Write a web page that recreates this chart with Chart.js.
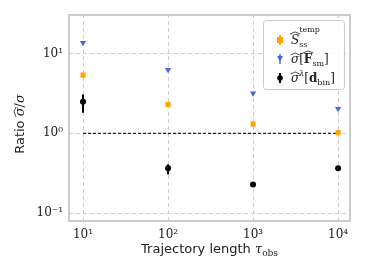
<!DOCTYPE html>
<html>
<head>
<meta charset="utf-8">
<script src="https://cdn.jsdelivr.net/npm/chart.js@4"></script>
<style>
html,body{margin:0;padding:0;background:#fff;}
#wrap{width:366px;height:275px;}
</style>
</head>
<body>
<div id="wrap"><canvas id="c" width="366" height="275"></canvas></div>
<script>
// Data
const tauObs = [10, 100, 1000, 10000];
const sTemp = [5.36, 2.30, 1.31, 1.02];
const sTempLow = [5.0, 2.22, 1.27, 0.99];
const sTempHigh = [5.75, 2.38, 1.35, 1.05];
const sigmaF = [13.6, 6.24, 3.16, 2.03];
const sigmaFLow = [13.3, 6.1, 3.1, 2.0];
const sigmaFHigh = [13.9, 6.4, 3.22, 2.07];
const sigmaD = [2.48, 0.365, 0.230, 0.365];
const sigmaDLow = [1.81, 0.307, 0.222, 0.355];
const sigmaDHigh = [3.07, 0.41, 0.238, 0.375];
const xTicks = [10, 100, 1000, 10000];
const yTicks = [0.1, 1, 10];
const xTickLabels = ['10¹', '10²', '10³', '10⁴'];
const yTickLabels = ['10⁻¹', '10⁰', '10¹'];
const refLine = [{x: 10, y: 1}, {x: 10000, y: 1}];

const ORANGE = '#FFA500', BLUE = '#4169E1', BLACK = '#000000';

const toPts = (ys) => tauObs.map((x, i) => ({x: x, y: ys[i]}));

const dashedGrid = {
  id: 'dashedGrid',
  beforeDatasetsDraw(chart) {
    const ctx = chart.ctx, a = chart.chartArea, xs = chart.scales.x, ys = chart.scales.y;
    ctx.save();
    ctx.strokeStyle = '#cfcfcf'; ctx.lineWidth = 1; ctx.setLineDash([4, 3]);
    xTicks.forEach(v => {
      const px = Math.round(xs.getPixelForValue(v)) + 0.5;
      ctx.beginPath(); ctx.moveTo(px, a.bottom); ctx.lineTo(px, a.top); ctx.stroke();
    });
    yTicks.forEach(v => {
      const py = Math.round(ys.getPixelForValue(v)) + 0.5;
      ctx.beginPath(); ctx.moveTo(a.left, py); ctx.lineTo(a.right, py); ctx.stroke();
    });
    ctx.restore();
  }
};

const errorBars = {
  id: 'errorBars',
  afterDatasetsDraw(chart) {
    const ctx = chart.ctx, xs = chart.scales.x, ys = chart.scales.y;
    const sets = [
      [sTempLow, sTempHigh, ORANGE, 2],
      [sigmaFLow, sigmaFHigh, BLUE, 1.5],
      [sigmaDLow, sigmaDHigh, BLACK, 2]
    ];
    ctx.save();
    sets.forEach(([lo, hi, col, w]) => {
      ctx.strokeStyle = col; ctx.lineWidth = w;
      tauObs.forEach((x, i) => {
        const px = xs.getPixelForValue(x);
        ctx.beginPath();
        ctx.moveTo(px, ys.getPixelForValue(lo[i]));
        ctx.lineTo(px, ys.getPixelForValue(hi[i]));
        ctx.stroke();
      });
    });
    ctx.restore();
  }
};

const frameAndText = {
  id: 'frameAndText',
  afterDraw(chart) {
    const ctx = chart.ctx, a = chart.chartArea;
    ctx.save();
    // frame
    ctx.strokeStyle = '#cccccc'; ctx.lineWidth = 2;
    ctx.strokeRect(a.left, a.top, a.right - a.left, a.bottom - a.top);

    // x-axis title
    ctx.fillStyle = '#222';
    ctx.textBaseline = 'alphabetic';
    const sans = '"DejaVu Sans", sans-serif';
    const serifI = 'italic 13px "DejaVu Serif", serif';
    const t1 = 'Trajectory length ';
    ctx.font = '13px ' + sans; const w1 = ctx.measureText(t1).width;
    ctx.font = serifI; const w2 = ctx.measureText('τ').width;
    ctx.font = '9px "DejaVu Serif", serif'; const w3 = ctx.measureText('obs').width;
    let x0 = (a.left + a.right) / 2 - (w1 + w2 + w3) / 2;
    const yb = 253;
    ctx.textAlign = 'left';
    ctx.font = '13px ' + sans; ctx.fillText(t1, x0, yb);
    ctx.font = serifI; ctx.fillText('τ', x0 + w1, yb);
    ctx.font = '9px "DejaVu Serif", serif'; ctx.fillText('obs', x0 + w1 + w2, yb + 3);

    // y-axis title (rotated)
    ctx.save();
    ctx.translate(24, (a.top + a.bottom) / 2 + 6);
    ctx.rotate(-Math.PI / 2);
    ctx.font = '13px ' + sans;
    const r1 = 'Ratio ';
    const rw1 = ctx.measureText(r1).width;
    ctx.font = serifI;
    const sw = ctx.measureText('σ').width;
    const slw = ctx.measureText('/').width;
    const tot = rw1 + sw + slw + sw;
    let xx = -tot / 2;
    ctx.font = '13px ' + sans; ctx.fillText(r1, xx, 0); xx += rw1;
    ctx.font = serifI; ctx.fillText('σ', xx, 0);
    drawHat(ctx, xx - 0.5, -10, sw + 1, '#222');
    xx += sw;
    ctx.font = '13px "DejaVu Serif", serif'; ctx.fillText('/', xx, 0); xx += slw;
    ctx.font = serifI; ctx.fillText('σ', xx, 0);
    ctx.restore();

    // legend
    const lx = 263, ly = 20, lw = 81, lh = 69;
    ctx.fillStyle = 'rgba(255,255,255,0.85)';
    ctx.strokeStyle = '#cccccc'; ctx.lineWidth = 1;
    roundRect(ctx, lx + 0.5, ly + 0.5, lw, lh, 3);
    ctx.fill(); ctx.stroke();
    const mx = 280;
    const rows = [40, 59, 78];
    ctx.lineWidth = 2; ctx.strokeStyle = ORANGE; ctx.fillStyle = ORANGE;
    ctx.beginPath(); ctx.moveTo(mx, rows[0] - 5); ctx.lineTo(mx, rows[0] + 5); ctx.stroke();
    ctx.fillRect(mx - 3, rows[0] - 3, 6, 6);
    ctx.strokeStyle = BLUE; ctx.fillStyle = BLUE; ctx.lineWidth = 1.5;
    ctx.beginPath(); ctx.moveTo(mx, rows[1] - 5); ctx.lineTo(mx, rows[1] + 5); ctx.stroke();
    ctx.beginPath(); ctx.moveTo(mx - 3, rows[1] - 3); ctx.lineTo(mx + 3, rows[1] - 3); ctx.lineTo(mx, rows[1] + 2.5); ctx.closePath(); ctx.fill();
    ctx.strokeStyle = BLACK; ctx.fillStyle = BLACK; ctx.lineWidth = 2;
    ctx.beginPath(); ctx.moveTo(mx, rows[2] - 5); ctx.lineTo(mx, rows[2] + 5); ctx.stroke();
    ctx.beginPath(); ctx.arc(mx, rows[2], 2.8, 0, Math.PI * 2); ctx.fill();

    // legend labels
    const tx = 291;
    ctx.fillStyle = '#222';
    const it = 'italic 12px "DejaVu Serif", serif';
    const rm = '12px "DejaVu Serif", serif';
    const sm = '8px "DejaVu Serif", serif';
    const bd = 'bold 12px "DejaVu Serif", serif';
    let y = rows[0] + 4, x = tx;
    ctx.font = it; ctx.fillText('S', x, y);
    let w = ctx.measureText('S').width;
    drawHat(ctx, x - 1, y - 12, w + 2, '#222');
    x += w;
    ctx.font = sm; ctx.fillText('ss', x, y + 3);
    ctx.fillText('temp', x, y - 12);
    y = rows[1] + 4; x = tx;
    ctx.font = it; ctx.fillText('σ', x, y); w = ctx.measureText('σ').width;
    drawHat(ctx, x - 0.5, y - 10, w + 1, '#222'); x += w;
    ctx.font = rm; ctx.fillText('[', x, y); x += ctx.measureText('[').width;
    ctx.font = bd; ctx.fillText('F', x, y); w = ctx.measureText('F').width;
    drawHat(ctx, x - 1, y - 12, w + 2, '#222'); x += w;
    ctx.font = sm; ctx.fillText('sm', x, y + 3); x += ctx.measureText('sm').width;
    ctx.font = rm; ctx.fillText(']', x, y);
    y = rows[2] + 4; x = tx;
    ctx.font = it; ctx.fillText('σ', x, y); w = ctx.measureText('σ').width;
    drawHat(ctx, x - 0.5, y - 10, w + 1, '#222'); x += w;
    ctx.font = 'italic 8px "DejaVu Serif", serif'; ctx.fillText('λ', x, y - 6); x += ctx.measureText('λ').width;
    ctx.font = rm; ctx.fillText('[', x, y); x += ctx.measureText('[').width;
    ctx.font = bd; ctx.fillText('d', x, y); x += ctx.measureText('d').width;
    ctx.font = sm; ctx.fillText('bin', x, y + 3); x += ctx.measureText('bin').width;
    ctx.font = rm; ctx.fillText(']', x, y);
    ctx.restore();
  }
};

function drawHat(ctx, x, y, w, col) {
  ctx.save();
  ctx.strokeStyle = col; ctx.lineWidth = 0.8;
  ctx.beginPath();
  ctx.moveTo(x, y + 2); ctx.lineTo(x + w / 2, y); ctx.lineTo(x + w, y + 2);
  ctx.stroke();
  ctx.restore();
}
function roundRect(ctx, x, y, w, h, r) {
  ctx.beginPath();
  ctx.moveTo(x + r, y); ctx.lineTo(x + w - r, y); ctx.quadraticCurveTo(x + w, y, x + w, y + r);
  ctx.lineTo(x + w, y + h - r); ctx.quadraticCurveTo(x + w, y + h, x + w - r, y + h);
  ctx.lineTo(x + r, y + h); ctx.quadraticCurveTo(x, y + h, x, y + h - r);
  ctx.lineTo(x, y + r); ctx.quadraticCurveTo(x, y, x + r, y);
  ctx.closePath();
}

new Chart(document.getElementById('c'), {
  type: 'scatter',
  data: {
    datasets: [
      {label: 'ref', data: refLine, type: 'line', showLine: true, borderColor: '#222', borderWidth: 1.2, borderDash: [3, 2], pointRadius: 0, order: 5},
      {label: 'S_ss^temp', data: toPts(sTemp), pointStyle: 'rect', pointRadius: 3.6, backgroundColor: ORANGE, borderColor: ORANGE, borderWidth: 0},
      {label: 'sigma[F_sm]', data: toPts(sigmaF), pointStyle: 'triangle', rotation: 180, pointRadius: 3.6, backgroundColor: BLUE, borderColor: BLUE, borderWidth: 0},
      {label: 'sigma^lambda[d_bin]', data: toPts(sigmaD), pointStyle: 'circle', pointRadius: 3, backgroundColor: BLACK, borderColor: BLACK, borderWidth: 0}
    ]
  },
  options: {
    responsive: false,
    animation: false,
    events: [],
    layout: {padding: {left: 0, right: 16, top: 15, bottom: 0}},
    plugins: {legend: {display: false}, tooltip: {enabled: false}},
    scales: {
      x: {
        type: 'logarithmic',
        min: Math.pow(10, 0.835), max: Math.pow(10, 4.14),
        afterBuildTicks: (s) => { s.ticks = xTicks.map(v => ({value: v, major: true})); },
        afterFit: (s) => { s.height = 54; },
        grid: {display: false, drawTicks: false},
        border: {display: false},
        ticks: {
          autoSkip: false, maxRotation: 0, padding: 7, color: '#222',
          font: {family: '"DejaVu Serif", serif', size: 12},
          callback: (v) => { const i = xTicks.indexOf(v); return i >= 0 ? xTickLabels[i] : ''; }
        }
      },
      y: {
        type: 'logarithmic',
        min: Math.pow(10, -1.096), max: Math.pow(10, 1.48),
        afterBuildTicks: (s) => { s.ticks = yTicks.map(v => ({value: v, major: true})); },
        afterFit: (s) => { s.width = 69; },
        grid: {display: false, drawTicks: false},
        border: {display: false},
        ticks: {
          autoSkip: false, padding: 6, color: '#222',
          font: {family: '"DejaVu Serif", serif', size: 12},
          callback: (v) => { const i = yTicks.indexOf(v); return i >= 0 ? yTickLabels[i] : ''; }
        }
      }
    }
  },
  plugins: [dashedGrid, errorBars, frameAndText]
});
</script>
</body>
</html>
